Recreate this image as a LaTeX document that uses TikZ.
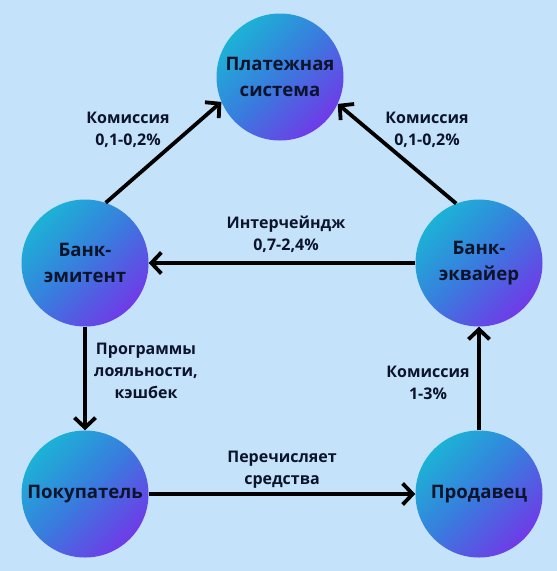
\documentclass[tikz,border=0pt]{standalone}
\usepackage{fontspec}
\setmainfont{Open Sans}
\usetikzlibrary{arrows.meta, positioning}

\definecolor{fondo}{RGB}{196,227,250}
\definecolor{circtop}{RGB}{28,178,214}
\definecolor{circmid}{RGB}{58,122,222}
\definecolor{circbot}{RGB}{112,58,232}
\definecolor{tinta}{RGB}{12,20,44}

\begin{document}
\begin{tikzpicture}[x=1pt, y=-1pt,
        % Estilo para los participantes
        actor/.style={
                circle,
                minimum size=127pt,
                inner sep=0pt,
                top color=circtop,
                bottom color=circbot,
                middle color=circmid,
                shading angle=45,
                align=center,
                font=\bfseries\fontsize{18.6}{26}\selectfont,
                text=tinta
            },
        % Estilo para las etiquetas
        etiqueta/.style={
                align=center,
                font=\bfseries\fontsize{16}{22}\selectfont,
                text=tinta
            },
        % Flechas
        flecha/.style={
                line width=3.8pt,
                -{Straight Barb[length=10pt,width=21pt]}
            }
    ]

    % FONDO
    \fill[fondo] (0,0) rectangle (557,571);
    \useasboundingbox (0,0) rectangle (557,571);

    % PARTICIPANTES
    \node[actor] (plat) at (280,77) {Платежная\\система};
    \node[actor] (emit) at (85,263) {Банк-\\эмитент};
    \node[actor] (ekv) at (479,263) {Банк-\\эквайер};
    \node[actor] (pokup) at (85,494) {Покупатель};
    \node[actor] (prod) at (479,494) {Продавец};

    % FLUJOS
    \draw[flecha] (emit.71) -- (plat.203);
    \draw[flecha] (ekv.111) -- (plat.335);
    \draw[flecha] (ekv.west) -- (emit.east);
    \draw[flecha] (emit.south) -- (pokup.north);
    \draw[flecha] (pokup.east) -- (prod.west);
    \draw[flecha] (prod.north) -- (ekv.south);

    % ETIQUETAS
    \node[etiqueta] (komL) at (128,130) {Комиссия\\0,1-0,2\%};
    \node[etiqueta] (komR) at (427,130) {Комиссия\\0,1-0,2\%};
    \node[etiqueta] (inter) at (286,234) {Интерчейндж\\0,7-2,4\%};
    \node[etiqueta] (loyal) at (146,371) {Программы\\лояльности,\\кэшбек};
    \node[etiqueta] (komP) at (428,383) {Комиссия\\1-3\%};
    \node[etiqueta] (perech) at (282,470) {Перечисляет\\средства};

\end{tikzpicture}
\end{document}
